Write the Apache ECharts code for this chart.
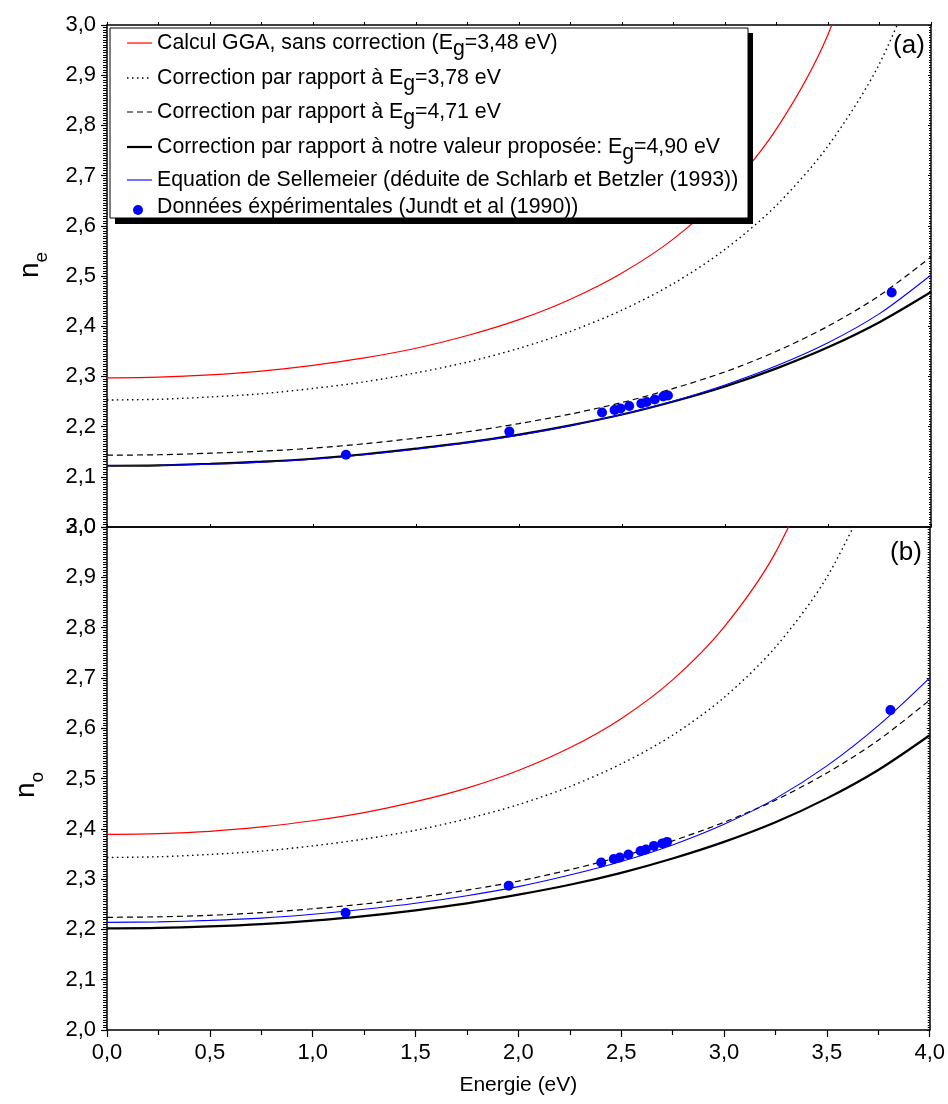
<!DOCTYPE html>
<html>
<head>
<meta charset="utf-8">
<script src="https://cdn.jsdelivr.net/npm/echarts@6/dist/echarts.min.js"></script>
<style>html,body{margin:0;padding:0;background:#fff}#c{width:948px;height:1104px}</style>
</head>
<body>
<div id="c"></div>
<script>
// ---- data ----
const gridE = [0, 0.25, 0.5, 0.75, 1, 1.25, 1.5, 1.75, 2, 2.25, 2.5, 2.75, 3, 3.25, 3.5, 3.75, 4];

// panel (a): n_e
const neRedE = [0, 0.25, 0.5, 0.75, 1, 1.25, 1.5, 1.75, 2, 2.25, 2.5, 2.75, 3, 3.25, 3.5, 3.75];
const neRed = [2.297, 2.2985, 2.303, 2.3106, 2.322, 2.3368, 2.356, 2.3814, 2.413, 2.4538, 2.506, 2.574, 2.666, 2.793, 2.981, 3.282];
const neDot = [2.253, 2.2544, 2.259, 2.2655, 2.276, 2.2891, 2.307, 2.3285, 2.356, 2.3898, 2.432, 2.485, 2.553, 2.641, 2.759, 2.923, 3.165];
const neDash = [2.143, 2.1439, 2.147, 2.151, 2.157, 2.1658, 2.177, 2.1897, 2.206, 2.225, 2.248, 2.276, 2.309, 2.350, 2.400, 2.461, 2.538];
const neBlack = [2.122, 2.1229, 2.126, 2.1301, 2.136, 2.1449, 2.156, 2.1684, 2.184, 2.2025, 2.224, 2.250, 2.280, 2.316, 2.358, 2.408, 2.468];
const neBlue = [2.122, 2.1228, 2.125, 2.129, 2.135, 2.144, 2.155, 2.168, 2.183, 2.202, 2.224, 2.251, 2.283, 2.321, 2.367, 2.425, 2.502];

// panel (b): n_o
const noRedE = [0, 0.25, 0.5, 0.75, 1, 1.25, 1.5, 1.75, 2, 2.25, 2.5, 2.75, 3, 3.25, 3.5];
const noRed = [2.389, 2.3906, 2.395, 2.4038, 2.416, 2.4322, 2.454, 2.481, 2.516, 2.561, 2.619, 2.696, 2.801, 2.949, 3.174];
const noDotE = [0, 0.25, 0.5, 0.75, 1, 1.25, 1.5, 1.75, 2, 2.25, 2.5, 2.75, 3, 3.25, 3.5, 3.75];
const noDot = [2.343, 2.3444, 2.349, 2.3556, 2.366, 2.3796, 2.397, 2.4199, 2.448, 2.4839, 2.529, 2.586, 2.661, 2.761, 2.900, 3.104];
const noDash = [2.224, 2.225, 2.228, 2.2333, 2.241, 2.2505, 2.263, 2.2781, 2.296, 2.3185, 2.345, 2.376, 2.413, 2.457, 2.511, 2.576, 2.656];
const noBlack = [2.202, 2.2029, 2.206, 2.2106, 2.2175, 2.2265, 2.238, 2.2518, 2.269, 2.2887, 2.3125, 2.341, 2.374, 2.413, 2.4605, 2.517, 2.586];
const noBlue = [2.214, 2.215, 2.218, 2.2225, 2.230, 2.240, 2.252, 2.267, 2.285, 2.308, 2.335, 2.368, 2.409, 2.460, 2.525, 2.605, 2.700];

// experimental points
const expE = [1.16, 1.953, 2.403, 2.464, 2.493, 2.535, 2.594, 2.62, 2.659, 2.70, 2.723, 3.809];
const neExp = [2.144, 2.190, 2.228, 2.233, 2.236, 2.241, 2.246, 2.249, 2.254, 2.260, 2.262, 2.467];
const noExp = [2.233, 2.287, 2.333, 2.340, 2.343, 2.349, 2.356, 2.359, 2.366, 2.371, 2.374, 2.636];

const legendTexts = [
  'Calcul GGA, sans correction (E{g|g}=3,48 eV)',
  'Correction par rapport à E{g|g}=3,78 eV',
  'Correction par rapport à E{g|g}=4,71 eV',
  'Correction par rapport à notre valeur proposée: E{g|g}=4,90 eV',
  'Equation de Sellemeier (déduite de Schlarb et Betzler (1993))',
  'Données éxpérimentales (Jundt et al (1990))'
];
const xTitle = 'Energie (eV)';

// ---- chart ----
const FONT = 'Liberation Sans, Arial, sans-serif';
const zip = (xs, ys) => xs.map((x, i) => [x, ys[i]]);
const fmt = v => v.toFixed(1).replace('.', ',');

const grids = [
  { left: 107, width: 824, top: 25, height: 502 },
  { left: 107, width: 824, top: 527, height: 503 }
];

function xAx(grid, pos, opts) {
  return Object.assign({
    type: 'value', gridIndex: grid, position: pos, min: 0, max: 4, interval: 0.5,
    axisLine: { onZero: false, lineStyle: { color: '#000', width: 1.5 } },
    axisTick: { show: true, inside: false, length: 7, lineStyle: { color: '#000', width: 1.2 } },
    minorTick: { show: true, splitNumber: 2, length: 5, lineStyle: { color: '#000', width: 1.2 } },
    axisLabel: { show: false },
    splitLine: { show: false }
  }, opts);
}
function yAx(grid, pos, opts) {
  return Object.assign({
    type: 'value', gridIndex: grid, position: pos, min: 2, max: 3, interval: 0.1,
    axisLine: { onZero: false, lineStyle: { color: '#000', width: 1.5 } },
    axisTick: { show: true, inside: false, length: 6, lineStyle: { color: '#000', width: 1.2 } },
    minorTick: { show: true, splitNumber: 20, length: 4, lineStyle: { color: '#000', width: 1 } },
    axisLabel: { show: false },
    splitLine: { show: false }
  }, opts);
}
const yLabel = { show: true, formatter: fmt, color: '#000', fontSize: 22, fontFamily: FONT, margin: 11, showMinLabel: true, showMaxLabel: true };

const option = {
  backgroundColor: '#fff',
  animation: false,
  grid: grids,
  xAxis: [
    xAx(0, 'bottom', { axisTick: { show: true, inside: true, length: 3, lineStyle: { color: '#000' } }, minorTick: { show: false } }),
    xAx(0, 'top', { axisTick: { show: true, inside: false, length: 3, lineStyle: { color: '#000' } }, minorTick: { show: true, splitNumber: 2, length: 3, lineStyle: { color: '#000' } } }),
    xAx(1, 'bottom', {
      axisLabel: { show: true, formatter: fmt, color: '#000', fontSize: 22, fontFamily: FONT, margin: 12 },
      name: xTitle, nameLocation: 'middle', nameGap: 45,
      nameTextStyle: { color: '#000', fontSize: 21, fontFamily: FONT }
    }),
    xAx(1, 'top', { axisTick: { show: false }, minorTick: { show: false } })
  ],
  yAxis: [
    yAx(0, 'left', { axisLabel: yLabel }),
    yAx(0, 'right', { axisTick: { show: true, inside: true, length: 3, lineStyle: { color: '#000' } }, minorTick: { show: true, splitNumber: 20, length: 2, lineStyle: { color: '#000' } } }),
    yAx(1, 'left', { axisLabel: yLabel }),
    yAx(1, 'right', { axisTick: { show: true, inside: true, length: 3, lineStyle: { color: '#000' } }, minorTick: { show: true, splitNumber: 20, length: 2, lineStyle: { color: '#000' } } })
  ],
  series: [],
  graphic: []
};

function line(xi, yi, data, color, width, type) {
  return {
    type: 'line', xAxisIndex: xi, yAxisIndex: yi, data: data, showSymbol: false, symbol: 'none',
    smooth: 0.3, clip: true,
    lineStyle: { color: color, width: width, type: type || 'solid' }, z: 3
  };
}
function dots(xi, yi, data) {
  return {
    type: 'scatter', xAxisIndex: xi, yAxisIndex: yi, data: data, symbol: 'circle', symbolSize: 10,
    itemStyle: { color: '#0000ff', opacity: 1 }, z: 4
  };
}
const DOT = [1.5, 3.5], DASH = [6, 4];
option.series.push(
  line(0, 0, zip(neRedE, neRed), '#ff0000', 1.2),
  line(0, 0, zip(gridE, neDot), '#000', 1.4, DOT),
  line(0, 0, zip(gridE, neDash), '#000', 1.2, DASH),
  line(0, 0, zip(gridE, neBlack), '#000', 2.2),
  line(0, 0, zip(gridE, neBlue), '#0000ff', 1.1),
  dots(0, 0, zip(expE, neExp)),
  line(2, 2, zip(noRedE, noRed), '#ff0000', 1.2),
  line(2, 2, zip(noDotE, noDot), '#000', 1.4, DOT),
  line(2, 2, zip(gridE, noDash), '#000', 1.2, DASH),
  line(2, 2, zip(gridE, noBlack), '#000', 2.2),
  line(2, 2, zip(gridE, noBlue), '#0000ff', 1.1),
  dots(2, 2, zip(expE, noExp))
);

// legend box (drawn as graphics)
const gr = option.graphic;
gr.push({ type: 'rect', z: 100, shape: { x: 115, y: 33, width: 638, height: 191 }, style: { fill: '#000' } });
gr.push({ type: 'rect', z: 101, shape: { x: 110, y: 28, width: 638, height: 190 }, style: { fill: '#fff', stroke: '#000', lineWidth: 1 } });
const rowY = [43, 78, 112, 147, 180, 207];
const sampleStyles = [
  { stroke: '#ff0000', lineWidth: 1.2 },
  { stroke: '#000', lineWidth: 1.4, lineDash: DOT },
  { stroke: '#000', lineWidth: 1.2, lineDash: DASH },
  { stroke: '#000', lineWidth: 2.2 },
  { stroke: '#0000ff', lineWidth: 1.1 }
];
rowY.forEach((y, i) => {
  if (i < 5) {
    gr.push({ type: 'line', z: 102, shape: { x1: 127, y1: y, x2: 152, y2: y }, style: sampleStyles[i] });
  } else {
    gr.push({ type: 'circle', z: 102, shape: { cx: 138, cy: y + 3, r: 5 }, style: { fill: '#0000ff' } });
  }
  gr.push({
    type: 'text', z: 102, x: 157, y: y,
    style: {
      text: legendTexts[i], fill: '#000', fontSize: 21.3, fontFamily: FONT, verticalAlign: 'middle', align: 'left',
      rich: { g: { fontSize: 21.3, fontFamily: FONT, fill: '#000', padding: [12, 0, 0, 0] } }
    }
  });
});
// panel tags
gr.push({ type: 'text', z: 102, x: 909, y: 46, style: { text: '(a)', fill: '#000', fontSize: 26, fontFamily: FONT, align: 'center', verticalAlign: 'middle' } });
gr.push({ type: 'text', z: 102, x: 906, y: 553, style: { text: '(b)', fill: '#000', fontSize: 26, fontFamily: FONT, align: 'center', verticalAlign: 'middle' } });
// axis titles n_e, n_o
function yTitle(sub, x, y) {
  return {
    type: 'text', z: 102, x: x, y: y, rotation: Math.PI / 2,
    style: {
      text: '{n|n}{s|' + sub + '}', align: 'center', verticalAlign: 'middle', fill: '#000',
      rich: {
        n: { fontSize: 28, fontFamily: FONT, fill: '#000' },
        s: { fontSize: 19, fontFamily: FONT, fill: '#000', padding: [24, 0, 0, 0] }
      }
    }
  };
}
gr.push(yTitle('e', 30, 265));
gr.push(yTitle('o', 26, 785));

const chart = echarts.init(document.getElementById('c'), null, { renderer: 'canvas' });
chart.setOption(option);
</script>
</body>
</html>
